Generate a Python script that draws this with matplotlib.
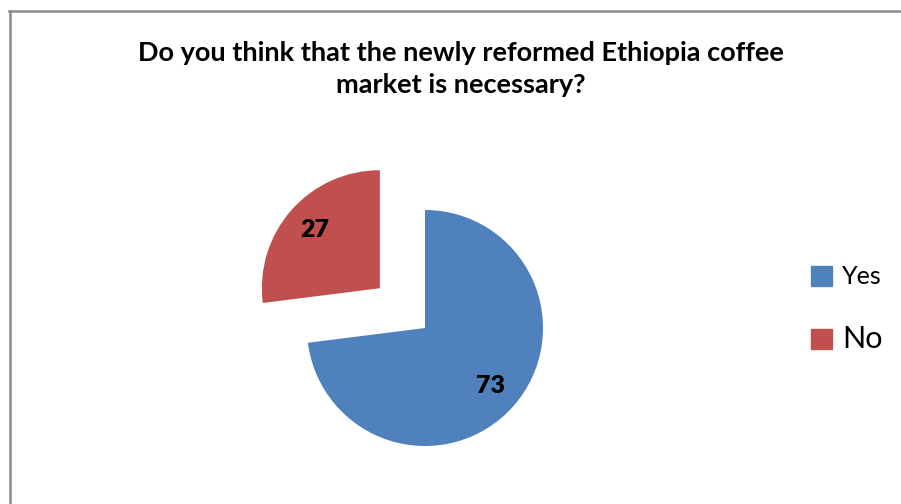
import matplotlib.pyplot as plt
from matplotlib.lines import Line2D

labels = ['Yes', 'No']
values = [73, 27]
colors = ['#4F81BD', '#C0504D']
title = 'Do you think that the newly reformed Ethiopia coffee\nmarket is necessary?'

W, H = 901, 504
R = 118
explode = [0, 0.51 * R]  # pie explode offset is in data units

fig = plt.figure(figsize=(W / 100, H / 100), dpi=100)
fig.patch.set_facecolor('white')
ax = fig.add_axes([0, 0, 1, 1])

wedges, texts, autotexts = ax.pie(
    values, colors=colors, explode=explode, startangle=90, counterclock=False,
    center=(425, H - 328), radius=R, autopct=lambda p: f'{p:.0f}',
    pctdistance=0.74, wedgeprops=dict(linewidth=0),
    textprops=dict(fontsize=18, fontweight='heavy', family='Lato', color='black'))
ax.set_xlim(0, W)
ax.set_ylim(0, H)
ax.set_aspect('equal')
ax.axis('off')

fig.text(461 / W, 1 - 69 / H, title, ha='center', va='center', fontsize=19.5,
         fontweight='bold', family='Lato', linespacing=1.4)

# legend
for i, (lab, col) in enumerate(zip(labels, colors)):
    y = [276, 339][i]
    fig.patches.append(plt.Rectangle((811 / W, 1 - (y + 10) / H), 21 / W, 20 / H,
                                     transform=fig.transFigure, color=col))
    fig.text(842 / W, 1 - y / H, lab, ha='left', va='center',
             fontsize=[18, 22][i], family='Lato')

# chart border
fig.add_artist(Line2D([9 / W, 1], [1 - 10.5 / H, 1 - 10.5 / H], transform=fig.transFigure,
                      color='#8c8c8c', linewidth=1.8))
fig.add_artist(Line2D([9.5 / W, 9.5 / W], [0, 1 - 10.5 / H], transform=fig.transFigure,
                      color='#8c8c8c', linewidth=1.8))

fig.savefig('out.png', dpi=100)
